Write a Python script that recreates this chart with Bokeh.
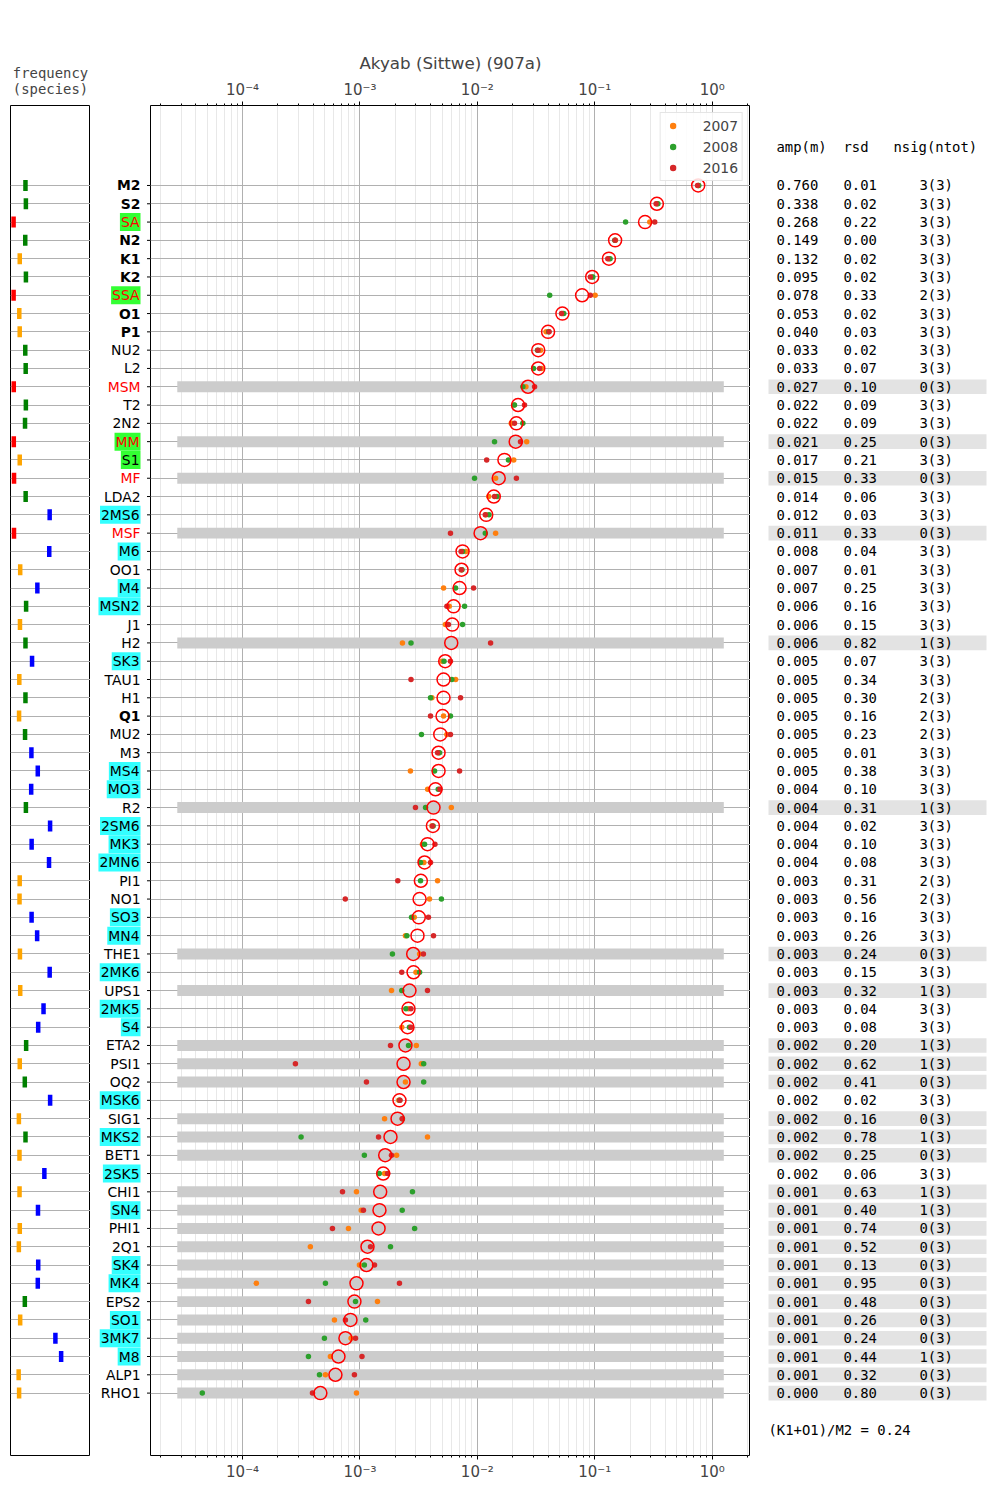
from bokeh.plotting import figure
from bokeh.layouts import row
from bokeh.models import (ColumnDataSource, Range1d, LogAxis, FixedTicker,
                          CustomJSTickFormatter, Title, Legend, LegendItem)
from bokeh.embed import file_html
from bokeh.resources import INLINE
from bokeh.core.properties import value

# ---------------- data ----------------
names = ["M2", "S2", "SA", "N2", "K1", "K2", "SSA", "O1", "P1", "NU2", "L2", "MSM", "T2", "2N2",
         "MM", "S1", "MF", "LDA2", "2MS6", "MSF", "M6", "OO1", "M4", "MSN2", "J1", "H2", "SK3",
         "TAU1", "H1", "Q1", "MU2", "M3", "MS4", "MO3", "R2", "2SM6", "MK3", "2MN6", "PI1", "NO1",
         "SO3", "MN4", "THE1", "2MK6", "UPS1", "2MK5", "S4", "ETA2", "PSI1", "OQ2", "MSK6", "SIG1",
         "MKS2", "BET1", "2SK5", "CHI1", "SN4", "PHI1", "2Q1", "SK4", "MK4", "EPS2", "SO1", "3MK7",
         "M8", "ALP1", "RHO1"]

# frequency in cycles per day
freq_cpd = [1.9323, 2.0, 0.0027, 1.8960, 1.0027, 2.0055, 0.0055, 0.9295, 0.9973, 1.9000, 1.9686,
            0.0314, 1.9973, 1.8597, 0.0363, 1.0, 0.0732, 1.9635, 5.8646, 0.0677, 5.7968, 1.0759,
            3.8645, 2.0365, 1.0390, 1.9337, 3.0027, 0.9324, 1.9309, 0.8932, 1.8640, 2.8984,
            3.9323, 2.8618, 2.0027, 5.9323, 2.9350, 5.7606, 0.9945, 0.9664, 2.9295, 3.8283,
            1.0346, 5.8673, 1.0792, 4.8677, 4.0, 2.0419, 1.0055, 1.8228, 5.9378, 0.8618, 1.9378,
            0.9601, 5.0027, 0.9691, 3.9677, 1.0082, 0.8570, 4.0027, 3.9350, 1.8283, 1.0705,
            6.7968, 7.7290, 0.8258, 0.8981]

amp_mean = [0.760, 0.338, 0.268, 0.149, 0.132, 0.095, 0.078, 0.053, 0.040, 0.033, 0.033, 0.027,
            0.0222, 0.0215, 0.0212, 0.0170, 0.0152, 0.0138, 0.0119, 0.01065, 0.00748, 0.00733,
            0.00705, 0.00627, 0.00611, 0.00599, 0.00532, 0.00515, 0.00515, 0.00505, 0.00483,
            0.00467, 0.00467, 0.0044, 0.00423, 0.00418, 0.00376, 0.00355, 0.0033, 0.00322,
            0.00317, 0.00309, 0.00284, 0.00286, 0.00264, 0.00259, 0.00254, 0.00244, 0.00235,
            0.00235, 0.00217, 0.00209, 0.00182, 0.00164, 0.001577, 0.001487, 0.001466, 0.00144,
            0.001159, 0.001136, 0.000934, 0.000897, 0.00083, 0.000752, 0.000656, 0.000618,
            0.00046]

amp_2007 = [0.762, 0.338, 0.294, 0.150, 0.132, 0.095, 0.1007, 0.053, 0.0385, 0.0346, 0.0353,
            0.0259, 0.0205, 0.0194, 0.0263, 0.0204, 0.0143, 0.0125, 0.0118, 0.0143, 0.0080,
            0.0073, 0.00515, 0.00576, 0.00534, 0.0023, 0.0050, 0.00653, 0.0041, 0.00515, 0.0055,
            0.00467, 0.00269, 0.00377, 0.0060, 0.0041, 0.0034, 0.0035, 0.00458, 0.00391, 0.0029,
            0.00244, 0.00322, 0.0030, 0.001856, 0.00259, 0.00227, 0.00302, 0.00333, 0.00244,
            0.00214, 0.00162, 0.00376, 0.00205, 0.00162, 0.000934, 0.001024, 0.000798, 0.000378,
            0.00099, 0.000131, 0.00141, 0.000606, 0.00084, 0.00056, 0.000508, 0.000934]

amp_2008 = [0.768, 0.345, 0.183, 0.148, 0.135, 0.0963, 0.0413, 0.0544, 0.0405, 0.0325, 0.0301,
            0.0244, 0.0207, 0.0244, 0.0140, 0.0184, 0.00946, 0.0147, 0.01256, 0.01168, 0.0075,
            0.0074, 0.00652, 0.00778, 0.00748, 0.00272, 0.0052, 0.00606, 0.00399, 0.0059, 0.00334,
            0.00476, 0.00432, 0.00464, 0.00362, 0.0042, 0.00355, 0.00328, 0.00328, 0.00494,
            0.00275, 0.00251, 0.00189, 0.00322, 0.00227, 0.00246, 0.00264, 0.00259, 0.00349,
            0.00349, 0.00218, 0.0023, 0.000315, 0.00109, 0.00146, 0.0028, 0.00229, 0.00292,
            0.00182, 0.00109, 0.000508, 0.000916, 0.00112, 0.000498, 0.000364, 0.000452,
            0.0000454]

amp_2016 = [0.750, 0.333, 0.324, 0.149, 0.129, 0.0917, 0.0917, 0.0521, 0.0408, 0.0328, 0.0339,
            0.0307, 0.0252, 0.0207, 0.0233, 0.0120, 0.0215, 0.0140, 0.01168, 0.0059, 0.00727,
            0.0073, 0.00928, 0.0055, 0.00567, 0.01296, 0.0059, 0.00272, 0.00719, 0.00399, 0.0059,
            0.00458, 0.00705, 0.00479, 0.00297, 0.00415, 0.00435, 0.00399, 0.0021, 0.00075,
            0.00383, 0.00423, 0.00347, 0.00227, 0.00376, 0.00272, 0.00272, 0.00182, 0.000282,
            0.001136, 0.00219, 0.00229, 0.00144, 0.001856, 0.00172, 0.00071, 0.00107, 0.000583,
            0.00123, 0.00133, 0.00217, 0.000364, 0.000752, 0.000916, 0.00104, 0.000897, 0.000394]

amp_table = [0.760, 0.338, 0.268, 0.149, 0.132, 0.095, 0.078, 0.053, 0.040, 0.033, 0.033, 0.027,
             0.022, 0.022, 0.021, 0.017, 0.015, 0.014, 0.012, 0.011, 0.008, 0.007, 0.007, 0.006,
             0.006, 0.006, 0.005, 0.005, 0.005, 0.005, 0.005, 0.005, 0.005, 0.004, 0.004, 0.004,
             0.004, 0.004, 0.003, 0.003, 0.003, 0.003, 0.003, 0.003, 0.003, 0.003, 0.003, 0.002,
             0.002, 0.002, 0.002, 0.002, 0.002, 0.002, 0.002, 0.001, 0.001, 0.001, 0.001, 0.001,
             0.001, 0.001, 0.001, 0.001, 0.001, 0.001, 0.000]

rsd = [0.01, 0.02, 0.22, 0.00, 0.02, 0.02, 0.33, 0.02, 0.03, 0.02, 0.07, 0.10, 0.09, 0.09, 0.25,
       0.21, 0.33, 0.06, 0.03, 0.33, 0.04, 0.01, 0.25, 0.16, 0.15, 0.82, 0.07, 0.34, 0.30, 0.16,
       0.23, 0.01, 0.38, 0.10, 0.31, 0.02, 0.10, 0.08, 0.31, 0.56, 0.16, 0.26, 0.24, 0.15, 0.32,
       0.04, 0.08, 0.20, 0.62, 0.41, 0.02, 0.16, 0.78, 0.25, 0.06, 0.63, 0.40, 0.74, 0.52, 0.13,
       0.95, 0.48, 0.26, 0.24, 0.44, 0.32, 0.80]

nsig = [3, 3, 3, 3, 3, 3, 2, 3, 3, 3, 3, 0, 3, 3, 0, 3, 0, 3, 3, 0, 3, 3, 3, 3, 3, 1, 3, 3, 2, 2,
        2, 3, 3, 3, 1, 3, 3, 3, 2, 2, 3, 3, 0, 3, 1, 3, 3, 1, 1, 0, 3, 0, 1, 0, 3, 1, 1, 0, 0, 0,
        0, 0, 0, 0, 1, 0, 0]

ntot = [3, 3, 3, 3, 3, 3, 3, 3, 3, 3, 3, 3, 3, 3, 3, 3, 3, 3, 3, 3, 3, 3, 3, 3, 3, 3, 3, 3, 3, 3,
        3, 3, 3, 3, 3, 3, 3, 3, 3, 3, 3, 3, 3, 3, 3, 3, 3, 3, 3, 3, 3, 3, 3, 3, 3, 3, 3, 3, 3, 3,
        3, 3, 3, 3, 3, 3, 3]

years = ["2007", "2008", "2016"]
ratio_text = "(K1+O1)/M2 = 0.24"
station_title = "Akyab (Sittwe) (907a)"

# label styling groups
bold_names = {"M2", "S2", "N2", "K1", "K2", "O1", "P1", "Q1"}
red_names = {"SA", "SSA", "MSM", "MM", "MF", "MSF"}
green_bg = {"SA", "SSA", "MM", "S1"}
cyan_bg = {"2MS6", "M6", "M4", "MSN2", "SK3", "MS4", "MO3", "2SM6", "MK3", "2MN6", "SO3", "MN4",
           "2MK6", "2MK5", "S4", "MSK6", "MKS2", "2SK5", "SN4", "SK4", "MK4", "SO1", "3MK7", "M8"}

# ---------------- layout constants ----------------
FS = "13.9px"
SANS = "DejaVu Sans"
MONO = "DejaVu Sans Mono"
n = len(names)
ys = [-i for i in range(n)]
yr = Range1d(-69.41, 4.371)
FRAME_H = 1350


def base_fig(fw, xr, **kw):
    p = figure(frame_width=fw, frame_height=FRAME_H, x_range=xr, y_range=yr,
               toolbar_location=None, output_backend="svg",
               min_border_top=105, min_border_bottom=45,
               min_border_left=kw.pop("mbl", 0), min_border_right=0,
               background_fill_color="white", border_fill_color="white", **kw)
    return p


def band_color(f):
    if f < 0.5:
        return "#ff0000"
    if f < 1.5:
        return "#ffa500"
    if f < 2.5:
        return "#008000"
    return "#0000ff"


# ---------------- frequency panel ----------------
fa = base_fig(80, Range1d(-0.5, 12.5), mbl=10, x_axis_location=None, y_axis_location=None,
              outline_line_color="black")
fa.xgrid.visible = False
fa.ygrid.ticker = FixedTicker(ticks=ys)
fa.ygrid.grid_line_color = "#b0b0b0"
fa.ygrid.grid_line_width = 1
fsrc = ColumnDataSource(dict(f=freq_cpd, y=ys, c=[band_color(f) for f in freq_cpd]))
fa.rect(x="f", y="y", width=4.5, height=11, width_units="screen", height_units="screen",
        fill_color="c", line_color=None, source=fsrc)
fa.add_layout(Title(text="frequency\n(species)", align="center", text_font=MONO,
                    text_font_size=FS, text_font_style="normal", standoff=18,
                    text_line_height=1.0), "above")

# ---------------- label panel ----------------
fl = base_fig(60, Range1d(0, 60), x_axis_location=None, y_axis_location=None,
              outline_line_color=None)
fl.grid.visible = False
fl.segment(x0=56.5, y0=ys, x1=60, y1=ys, line_color="black", line_width=1)


def label_src(sel):
    idx = [i for i, nm in enumerate(names) if sel(nm)]
    return ColumnDataSource(dict(
        x=[50] * len(idx), y=[ys[i] for i in idx], t=[names[i] for i in idx],
        tcol=["#ff0000" if names[i] in red_names else "black" for i in idx],
        fstyle=["bold" if names[i] in bold_names else "normal" for i in idx]))


common = dict(x="x", y="y", text="t", text_align="right", text_baseline="middle",
              text_font=value(SANS), text_font_size=value(FS), text_color="tcol",
              text_font_style="fstyle")
fl.text(source=label_src(lambda nm: nm not in green_bg and nm not in cyan_bg), **common)
fl.text(source=label_src(lambda nm: nm in green_bg), background_fill_color="#33ff33",
        padding=1, **common)
fl.text(source=label_src(lambda nm: nm in cyan_bg), background_fill_color="#33ffff",
        padding=1, **common)

# ---------------- main panel ----------------
major = [1e-4, 1e-3, 1e-2, 1e-1, 1.0]
minor = [m * 10.0 ** e for e in range(-5, 1) for m in range(2, 10)]
tick = FixedTicker(ticks=major, minor_ticks=minor)
fmt = CustomJSTickFormatter(code="""
const e = Math.round(Math.log10(tick));
const m = {'-':'\u207b','0':'\u2070','1':'\u00b9','2':'\u00b2','3':'\u00b3','4':'\u2074',
           '5':'\u2075','6':'\u2076','7':'\u2077','8':'\u2078','9':'\u2079'};
return '10' + String(e).split('').map(c => m[c]).join('');
""")

fm = base_fig(600, Range1d(1.644e-5, 2.12), x_axis_type="log", y_axis_location=None,
              outline_line_color="black", title=station_title)
fm.title.align = "center"
fm.title.text_font = SANS
fm.title.text_font_size = "16.7px"
fm.title.text_font_style = "normal"
fm.title.standoff = 10

fm.add_layout(LogAxis(), "above")
fm.xaxis.ticker = tick
fm.xaxis.formatter = fmt
fm.xaxis.major_tick_out = 4
fm.xaxis.major_tick_in = 0
fm.xaxis.minor_tick_out = 2
fm.xaxis.minor_tick_in = 0
fm.xaxis.axis_line_color = None
fm.xaxis.major_label_text_font = SANS
fm.xaxis.major_label_text_font_size = "15px"
fm.xaxis.major_label_standoff = 3

fm.xgrid.ticker = tick
fm.xgrid.grid_line_color = "#b0b0b0"
fm.xgrid.minor_grid_line_color = "#e8e8e8"
fm.ygrid.ticker = FixedTicker(ticks=ys)
fm.ygrid.grid_line_color = "#b0b0b0"

gray_y = [ys[i] for i in range(n) if nsig[i] < 2]
fm.hbar(y=gray_y, left=2.78e-5, right=1.256, height=0.6, fill_color="#cccccc",
        line_color=None)

src = ColumnDataSource(dict(y=ys, a07=amp_2007, a08=amp_2008, a16=amp_2016, am=amp_mean))
r07 = fm.scatter(x="a07", y="y", size=5.5, fill_color="#ff7f0e", line_color=None, source=src)
r08 = fm.scatter(x="a08", y="y", size=5.5, fill_color="#2ca02c", line_color=None, source=src)
r16 = fm.scatter(x="a16", y="y", size=5.5, fill_color="#d62728", line_color=None, source=src)
fm.scatter(x="am", y="y", size=13, fill_color=None, line_color="#ff0000", line_width=1.5,
           source=src)

leg = Legend(items=[LegendItem(label=years[0], renderers=[r07]),
                    LegendItem(label=years[1], renderers=[r08]),
                    LegendItem(label=years[2], renderers=[r16])],
             location="top_right")
leg.label_text_font = SANS
leg.label_text_font_size = FS
leg.glyph_width = 16
leg.glyph_height = 17
leg.label_height = 17
leg.label_standoff = 22
leg.spacing = 4
leg.padding = 4
leg.margin = 7
leg.border_line_color = "#cccccc"
leg.background_fill_alpha = 0.85
fm.add_layout(leg)

# ---------------- table panel ----------------
ft = base_fig(250, Range1d(0, 250), x_axis_location=None, y_axis_location=None,
              outline_line_color=None)
ft.grid.visible = False
ft.hbar(y=gray_y, left=18, right=236, height=0.8, fill_color="#e3e3e3", line_color=None)
tsrc = ColumnDataSource(dict(
    y=ys,
    a=["%.3f" % v for v in amp_table],
    r=["%.2f" % v for v in rsd],
    s=["%d(%d)" % (a, b) for a, b in zip(nsig, ntot)]))
tcommon = dict(y="y", text_align="left", text_baseline="middle", text_font=value(MONO),
               text_font_size=value(FS), text_color="black", source=tsrc)
ft.text(x=26, text="a", **tcommon)
ft.text(x=93, text="r", **tcommon)
ft.text(x=169, text="s", **tcommon)
hdr_y = (185 - 147) / 18.303
ft.text(x=[26, 93, 143], y=[hdr_y] * 3, text=["amp(m)", "rsd", "nsig(ntot)"],
        text_align="left", text_baseline="middle", text_font=value(MONO),
        text_font_size=value(FS), text_color="black")
ft.text(x=[18], y=[-(1430 - 185) / 18.303], text=[ratio_text], text_align="left",
        text_baseline="middle", text_font=value(MONO), text_font_size=value(FS),
        text_color="black")

layout = row(fa, fl, fm, ft, spacing=0)
open("out.html", "w").write(file_html(layout, INLINE))
